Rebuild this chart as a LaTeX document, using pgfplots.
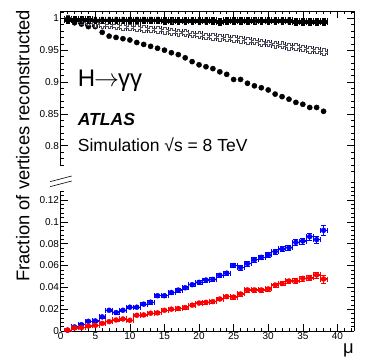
\documentclass[border=0pt]{standalone}
\usepackage{fontspec}
\setmainfont{Liberation Sans}
\usepackage{pgfplots}
\usepackage{pgfplotstable}
\pgfplotsset{compat=1.18}

% plus-shaped marker (filled or open, depending on fill colour)
\pgfdeclareplotmark{plusbox}{%
  \pgfpathmoveto{\pgfqpoint{-0.38\pgfplotmarksize}{\pgfplotmarksize}}%
  \pgfpathlineto{\pgfqpoint{0.38\pgfplotmarksize}{\pgfplotmarksize}}%
  \pgfpathlineto{\pgfqpoint{0.38\pgfplotmarksize}{0.38\pgfplotmarksize}}%
  \pgfpathlineto{\pgfqpoint{\pgfplotmarksize}{0.38\pgfplotmarksize}}%
  \pgfpathlineto{\pgfqpoint{\pgfplotmarksize}{-0.38\pgfplotmarksize}}%
  \pgfpathlineto{\pgfqpoint{0.38\pgfplotmarksize}{-0.38\pgfplotmarksize}}%
  \pgfpathlineto{\pgfqpoint{0.38\pgfplotmarksize}{-\pgfplotmarksize}}%
  \pgfpathlineto{\pgfqpoint{-0.38\pgfplotmarksize}{-\pgfplotmarksize}}%
  \pgfpathlineto{\pgfqpoint{-0.38\pgfplotmarksize}{-0.38\pgfplotmarksize}}%
  \pgfpathlineto{\pgfqpoint{-\pgfplotmarksize}{-0.38\pgfplotmarksize}}%
  \pgfpathlineto{\pgfqpoint{-\pgfplotmarksize}{0.38\pgfplotmarksize}}%
  \pgfpathlineto{\pgfqpoint{-0.38\pgfplotmarksize}{0.38\pgfplotmarksize}}%
  \pgfpathclose
  \pgfusepathqfillstroke
}

% top panel: efficiencies
\pgfplotstableread{
mu  blk    open   circ
1   0.998  0.999  0.998
2   0.998  0.998  0.993
3   0.998  0.996  0.991
4   0.998  0.994  0.987
5   0.997  0.992  0.987
6   0.997  0.990  0.978
7   0.997  0.989  0.972
8   0.997  0.988  0.970
9   0.997  0.987  0.968
10  0.997  0.986  0.966
11  0.997  0.985  0.962
12  0.997  0.984  0.959
13  0.997  0.983  0.956
14  0.997  0.982  0.953
15  0.996  0.981  0.950
16  0.996  0.979  0.946
17  0.996  0.978  0.943
18  0.996  0.977  0.938
19  0.996  0.975  0.932
20  0.996  0.974  0.927
21  0.996  0.972  0.924
22  0.996  0.971  0.921
23  0.995  0.970  0.916
24  0.996  0.969  0.912
25  0.996  0.968  0.904
26  0.996  0.967  0.904
27  0.996  0.965  0.898
28  0.996  0.964  0.894
29  0.996  0.962  0.891
30  0.996  0.961  0.8875
31  0.996  0.959  0.881
32  0.996  0.958  0.877
33  0.996  0.956  0.873
34  0.995  0.955  0.868
35  0.995  0.953  0.865
36  0.995  0.951  0.860
37  0.995  0.950  0.860
38  0.995  0.947  0.854
}\toptable

% bottom panel: blue and red fractions with errors
\pgfplotstableread{
mu  blue    eb      red     er
1   0.0008  0.0006  0.0008  0.0006
2   0.0037  0.0008  0.0028  0.0007
3   0.0058  0.0009  0.0030  0.0007
4   0.0089  0.0010  0.0046  0.0008
5   0.0092  0.0010  0.0052  0.0008
6   0.0129  0.0011  0.0070  0.0009
7   0.0190  0.0013  0.0086  0.0009
8   0.0169  0.0012  0.0101  0.0010
9   0.0190  0.0013  0.0110  0.0010
10  0.0218  0.0013  0.0098  0.0010
11  0.0218  0.0013  0.0144  0.0011
12  0.0246  0.0014  0.0147  0.0011
13  0.0264  0.0014  0.0163  0.0012
14  0.0323  0.0015  0.0166  0.0012
15  0.0323  0.0015  0.0190  0.0012
16  0.0353  0.0016  0.0200  0.0013
17  0.0375  0.0016  0.0206  0.0013
18  0.0396  0.0017  0.0215  0.0013
19  0.0424  0.0017  0.0237  0.0014
20  0.0446  0.0018  0.0256  0.0014
21  0.0467  0.0018  0.0263  0.0014
22  0.0473  0.0018  0.0269  0.0015
23  0.0510  0.0019  0.0293  0.0015
24  0.0530  0.0019  0.0315  0.0016
25  0.0600  0.0020  0.0311  0.0016
26  0.0580  0.0020  0.0339  0.0017
27  0.0617  0.0021  0.0376  0.0017
28  0.0653  0.0021  0.0376  0.0017
29  0.0675  0.0022  0.0376  0.0018
30  0.0696  0.0022  0.0385  0.0018
31  0.0727  0.0023  0.0421  0.0019
32  0.0751  0.0024  0.0434  0.0019
33  0.0763  0.0025  0.0458  0.0020
34  0.0812  0.0026  0.0458  0.0021
35  0.0824  0.0028  0.0482  0.0022
36  0.0864  0.0030  0.0486  0.0024
37  0.0837  0.0034  0.0513  0.0027
38  0.0922  0.0045  0.0476  0.0036
}\bottable

\pgfplotsset{
  panel/.style={
    scale only axis, width=293.3pt,
    xmin=0, xmax=42.4,
    xtick={0,5,...,40}, minor xtick={0,1,...,42},
    tick align=inside,
    major tick length=7pt, minor tick length=3.5pt,
    tick style={black, line width=0.5pt},
    axis line style={line width=0.6pt},
    tick label style={font=\fontsize{10}{12}\selectfont},
    yticklabel style={inner sep=1.5pt},
    xticklabel style={inner sep=1pt},
  },
}

\begin{document}
\begin{tikzpicture}
\path[use as bounding box] (0,0) rectangle (374pt,361pt);

\begin{axis}[panel,
  at={(60.7pt,182pt)}, anchor=south west, height=168pt,
  ymin=0.7477, ymax=1.0115,
  axis x line*=top, axis y line*=box,
  xticklabels={},
  ytick={0.8,0.85,0.9,0.95,1}, yticklabels={0.8,0.85,0.9,0.95,1},
  minor ytick={0.76,0.77,0.78,0.79,0.81,0.82,0.83,0.84,0.86,0.87,0.88,0.89,0.91,0.92,0.93,0.94,0.96,0.97,0.98,0.99,1.01},
]
\addplot[only marks, mark=*, mark size=2.6pt, black] table[x=mu, y=circ] {\toptable};
\addplot[only marks, mark=plusbox, mark size=3.4pt,
  mark options={fill=white, draw=black!70, line width=0.45pt},
  error bars/.cd, x dir=both, x fixed=0.5,
  error bar style={color=blue!40!black, line width=0.5pt}]
  table[x=mu, y=open] {\toptable};
\addplot[only marks, mark=plusbox, mark size=3.4pt,
  mark options={fill=black, draw=black, line width=0.3pt},
  error bars/.cd, x dir=both, x fixed=0.5,
  error bar style={black, line width=1.3pt}]
  table[x=mu, y=blk] {\toptable};
\end{axis}

\begin{axis}[panel,
  at={(60.7pt,30pt)}, anchor=south west, height=152pt,
  ymin=0, ymax=0.1392,
  axis x line*=bottom, axis y line*=box,
  xticklabels={0,5,10,15,20,25,30,35,40},
  ytick={0,0.02,0.04,0.06,0.08,0.1,0.12}, yticklabels={0,0.02,0.04,0.06,0.08,0.1,0.12},
  minor ytick={0,0.004,...,0.138},
]
\addplot[only marks, mark=*, mark size=2.5pt, blue,
  error bars/.cd, x dir=both, x fixed=0.5, y dir=both, y explicit,
  error bar style={blue, line width=1.2pt}]
  table[x=mu, y=blue, y error=eb] {\bottable};
\addplot[only marks, mark=*, mark size=2.5pt, red,
  error bars/.cd, x dir=both, x fixed=0.5, y dir=both, y explicit,
  error bar style={red, line width=1.2pt}]
  table[x=mu, y=red, y error=er] {\bottable};
\end{axis}

% axis break on the left spine
\fill[white] (56pt,170pt) rectangle (66pt,195pt);
\draw[line width=0.6pt] (50pt,179.3pt) -- (71.7pt,185pt);
\draw[line width=0.6pt] (50pt,174.3pt) -- (71.7pt,180pt);

% texts
\node[rotate=90, anchor=base, inner sep=0pt, font=\fontsize{18.4}{20}\selectfont]
  at (29.3pt,215.1pt) {Fraction of vertices reconstructed};
\node[anchor=base east, inner sep=0pt, font=\fontsize{18.4}{20}\selectfont]
  at (354pt,7.7pt) {μ};
\node[anchor=base west, inner sep=0pt, font=\fontsize{24}{26}\selectfont]
  at (77.7pt,274.3pt) {H\kern-1pt$\rightarrow$\kern-1ptγγ};
\node[anchor=base west, inner sep=0pt, font=\fontsize{17.5}{20}\selectfont\bfseries\itshape]
  at (77.7pt,235pt) {ATLAS};
\node[anchor=base west, inner sep=0pt, font=\fontsize{17.5}{20}\selectfont]
  at (77.7pt,209.3pt) {Simulation √s = 8 TeV};
\end{tikzpicture}
\end{document}
